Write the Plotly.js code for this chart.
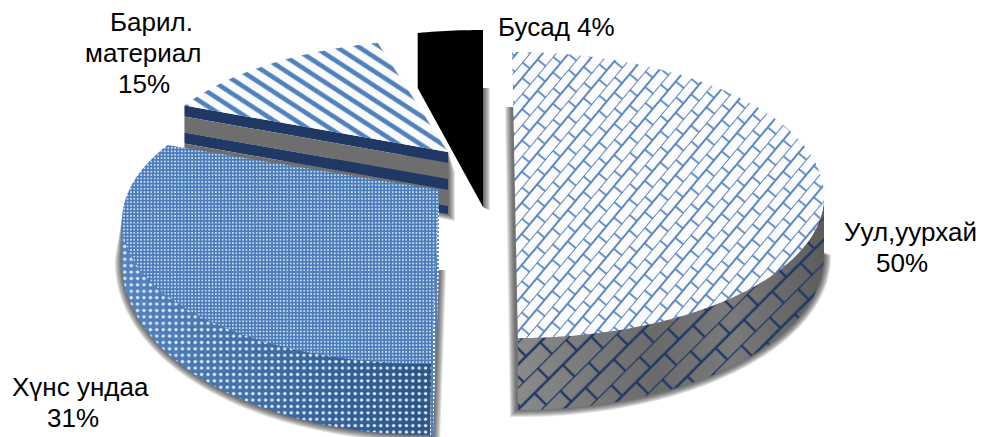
<!DOCTYPE html>
<html><head><meta charset="utf-8">
<script src="https://cdn.plot.ly/plotly-3.0.1.min.js"></script>
<style>html,body{margin:0;padding:0;background:#fff}#c{width:982px;height:437px}</style></head>
<body><div id="c"></div>
<script>
const categories = ["Уул,уурхай", "Хүнс ундаа", "Барил. материал", "Бусад"];
const values = [50, 31, 15, 4];

// projection of each slice: top and bottom ellipse of the tilted disc, apex of the wedge
const geom = [
  {top:{cx:515,cy:195,rx:309,ry:143}, bot:{cx:515,cy:255,rx:309,ry:155}, apex:[515,195], depth:72, shear:0.02},
  {top:{cx:438,cy:218,rx:316,ry:146}, bot:{cx:438,cy:258,rx:316,ry:177}, apex:[439,190], depth:72, shear:-0.045},
  {top:{cx:440,cy:171,rx:295,ry:131}, bot:{cx:440,cy:212,rx:295,ry:131}, apex:[448,152], depth:62, shear:0},
  {top:{cx:483,cy:160,rx:310,ry:130}, bot:{cx:483,cy:215,rx:310,ry:130}, apex:[483,135], depth:72, shear:0}
];

const total = values.reduce((a,b)=>a+b,0);
let acc = 0;
const spans = values.map(v=>{const s=acc/total*360; acc+=v; return [s,acc/total*360];});
const warp = a => a - 9*Math.sin(a*Math.PI/180);

function pt(e, t, sh, grow){
  const r=warp(t)*Math.PI/180, g=grow||0;
  const y=e.cy-(e.ry+g)*Math.cos(r);
  return [e.cx+(e.rx+g)*Math.sin(r)+sh*(y-e.cy), y];
}
function arc(e,a,b,sh,grow){
  const out=[], n=Math.max(8,Math.round(Math.abs(b-a)));
  for(let i=0;i<=n;i++) out.push(pt(e,a+(b-a)*i/n,sh,grow));
  return out;
}
function tr(pts,o){
  const c=pts.concat([pts[0]]);
  return Object.assign({type:'scatter',mode:'none',x:c.map(p=>p[0]),y:c.map(p=>p[1]),
    fill:'toself',hoverinfo:'skip',showlegend:false},o);
}
const traces=[];
const CLEAR='rgba(0,0,0,0)';
const BLUR=[7,6,5,4,3,2,1];
const shadow=(pts)=>tr(pts,{fillcolor:'rgba(30,30,30,0.13)'});

// --- Барил. материал (15%)
{
  const g=geom[2],[a,b]=spans[2];
  const f=arc(g.top,a,b,0), s=f[0], A=g.apex;
  const band=(d1,d2)=>[[s[0],s[1]+d1],[A[0],A[1]+d1],[A[0],A[1]+d2],[s[0],s[1]+d2]];
  BLUR.forEach(e=>traces.push(shadow([[s[0],s[1]+g.depth],[A[0]+e,A[1]+g.depth+e],[A[0]+e,A[1]+20],A])));
  [[0,11,'#1f3864'],[11,27,'#6e6e6e'],[27,38,'#1f3864'],[38,54,'#6e6e6e'],[54,62,'#1f3864']]
    .forEach(([d1,d2,c])=>traces.push(tr(band(d1,d2),{fillcolor:c})));
  traces.push(tr(f.concat([A]),{fillcolor:'#ffffff',fillpattern:{shape:'\\',size:12,solidity:0.38,fgcolor:'#4f81bd',bgcolor:'#fbfbfb'}}));
}
// --- Бусад (4%)
{
  const g=geom[3],[a,b]=spans[3];
  const f=arc(g.top,a,b,0), A=g.apex, s=f[0], e0=f[f.length-1];
  BLUR.forEach(e=>traces.push(shadow([[A[0],e0[1]+58],[A[0]+e,e0[1]+58],[A[0]+e,A[1]+g.depth+e/2],[A[0],A[1]+g.depth]])));
  const poly=f.concat([[A[0],A[1]+g.depth],[s[0],s[1]+55]]);
  traces.push(tr(poly,{fillcolor:'#000000'}));
}
// --- Хүнс ундаа (31%)
{
  const g=geom[1],[a,b]=spans[1];
  const f=arc(g.top,a,b,g.shear), A=g.apex;
  const la=261;
  const bot1=pt(g.bot,a,g.shear), bot0=pt(g.top,a,g.shear);
  const edge=[A[0],A[1]+80], low=[bot1[0]+3,bot1[1]];
  BLUR.forEach(e=>{
    const bt=arc(g.bot,la,a,g.shear,e);
    traces.push(shadow(bt.concat([[low[0]+e,low[1]+e],[edge[0]+e,edge[1]],[edge[0],edge[1]],[g.top.cx-g.top.rx,g.top.cy]])));
  });
  const wall=arc(g.top,la,a,g.shear).concat(arc(g.bot,a,la,g.shear));
  traces.push(tr(wall,{fillgradient:{type:'horizontal',colorscale:[[0,'#5585c0'],[0.3,'#4676b0'],[0.7,'#33629a'],[1,'#2a5585']]}}));
  traces.push(tr(wall,{fillcolor:CLEAR,fillpattern:{shape:'.',size:6.4,solidity:0.22,fgcolor:'#dfe6ee',bgcolor:CLEAR}}));
  traces.push(tr([bot0,A,edge,low,bot1],{fillcolor:'#4f81bd',fillpattern:{shape:'.',size:4,solidity:0.25,fgcolor:'#ffffff',bgcolor:'#4f81bd'}}));
  traces.push(tr(f.concat([A]),{fillcolor:'#4f81bd',fillpattern:{shape:'.',size:3.4,solidity:0.18,fgcolor:'#ffffff',bgcolor:'#4a7dbc'}}));
}
// --- Уул,уурхай (50%)
{
  const g=geom[0],[a,b]=spans[0];
  const f=arc(g.top,a,b,g.shear);
  const la=99;
  const s0=f[0], end=pt(g.bot,b,g.shear);
  BLUR.forEach(e=>{
    const bt=arc(g.bot,la,b,g.shear,e);
    traces.push(shadow(bt.concat([[end[0]-1-e,end[1]+e],[s0[0]-e,s0[1]+55],[s0[0],s0[1]+55]])));
  });
  const wall=arc(g.top,la,b,g.shear).concat(arc(g.bot,b,la,g.shear));
  traces.push(tr(wall,{fillgradient:{type:'horizontal',colorscale:[[0,'#8a8a8a'],[0.45,'#6a6a6a'],[0.7,'#7a7a7a'],[1,'#5c5c5c']]}}));
  traces.push(tr(wall,{fillcolor:CLEAR,fillpattern:{shape:'/',size:20,solidity:0.125,fgcolor:'#1f3864',bgcolor:CLEAR}}));
  traces.push(tr(f,{fillcolor:'#ffffff',fillpattern:{shape:'/',size:14,solidity:0.14,fgcolor:'#5b88c5',bgcolor:'#fbfbfb'}}));
}

const pct=values.map(v=>Math.round(v/total*100)+'%');
const lab=(text,x,y)=>({text,x,y,xref:'x',yref:'y',showarrow:false,xanchor:'center',yanchor:'middle',
  font:{family:'Liberation Sans, Arial, sans-serif',size:26,color:'#000'}});
const annotations=[
  lab('Барил.',151,22), lab('материал',143,53), lab(pct[2],144,84),
  lab(categories[3]+' '+pct[3],556,27),
  lab(categories[0],910,232), lab(pct[0],902,263),
  lab(categories[1],80.5,387), lab(pct[1],73,418)
];

// pattern tiles the library has no shape for: staggered diagonal bricks
function brick(p,L,H,stroke,sw,bg,rot){
  p.setAttribute('width',L); p.setAttribute('height',2*H);
  p.setAttribute('patternTransform','rotate('+rot+')');
  p.innerHTML=(bg?'<rect width="'+L+'" height="'+2*H+'" fill="'+bg+'"/>':'')+
    '<path fill="none" stroke="'+stroke+'" stroke-width="'+sw+'" d="M0,0H'+L+'M0,'+H+'H'+L+'M0,0V'+H+'M'+L+',0V'+H+'M'+L/2+','+H+'V'+2*H+'"/>';
}
Plotly.newPlot('c',traces,{
  width:982,height:437,margin:{l:0,r:0,t:0,b:0},paper_bgcolor:'#fff',plot_bgcolor:'#fff',showlegend:false,
  xaxis:{range:[0,982],visible:false,fixedrange:true},
  yaxis:{range:[437,0],visible:false,fixedrange:true},
  annotations
},{displayModeBar:false,staticPlot:true}).then(()=>{
  document.querySelectorAll('#c pattern').forEach(p=>{
    const w=Math.round(parseFloat(p.getAttribute('width'))/Math.SQRT2);
    if(w===12) p.setAttribute('patternTransform','rotate(-12)');
    if(w===14) brick(p,24,10,'#5b88c5',1.8,'#fbfbfb',-50);
    if(w===20) brick(p,40,16,'#1f3864',2.4,null,-45);
  });
});
</script></body></html>
